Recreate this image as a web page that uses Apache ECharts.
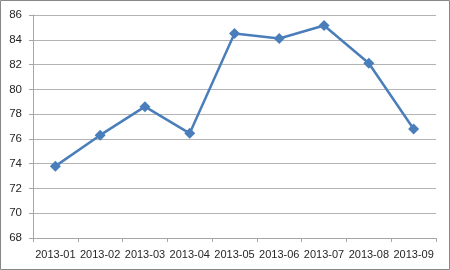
<!DOCTYPE html>
<html><head><meta charset="utf-8">
<script src="https://cdn.jsdelivr.net/npm/echarts@6/dist/echarts.min.js"></script>
<style>html,body{margin:0;padding:0;background:#fff}#c{width:450px;height:270px}</style>
</head><body><div id="c"></div>
<script>
const categories = ['2013-01','2013-02','2013-03','2013-04','2013-05','2013-06','2013-07','2013-08','2013-09'];
const values = [73.8, 76.3, 78.6, 76.45, 84.5, 84.1, 85.15, 82.1, 76.8];
const yMin = 68, yMax = 86, yStep = 2;

const chart = echarts.init(document.getElementById('c'), null, {renderer:'canvas'});
chart.setOption({
  animation:false,
  backgroundColor:'#fff',
  graphic:[{type:'rect',shape:{x:0.5,y:0.5,width:449,height:269},style:{fill:'none',stroke:'#878787',lineWidth:1},z:100}],
  grid:{left:33,right:14,top:15,bottom:32,containLabel:false},
  xAxis:{type:'category',data:categories,boundaryGap:true,
    axisLine:{lineStyle:{color:'#a6a6a6',width:1}},
    axisTick:{show:true,length:4,inside:false,lineStyle:{color:'#a6a6a6'}},
    axisLabel:{color:'#262626',fontFamily:'Liberation Sans',fontSize:11,margin:11,interval:0},
    splitLine:{show:false}},
  yAxis:{type:'value',min:yMin,max:yMax,interval:yStep,
    axisLine:{show:true,lineStyle:{color:'#a6a6a6',width:1}},
    axisTick:{show:true,length:4,lineStyle:{color:'#a6a6a6'}},
    axisLabel:{color:'#262626',fontFamily:'Liberation Sans',fontSize:11.5,margin:11},
    splitLine:{show:true,lineStyle:{color:'#b3b3b3',width:1}}},
  series:[{type:'line',data:values,symbol:'diamond',symbolSize:11,
    lineStyle:{color:'#4a7ebb',width:2.5},
    itemStyle:{color:'#4a7ebb',borderWidth:0}}]
});
</script></body></html>
